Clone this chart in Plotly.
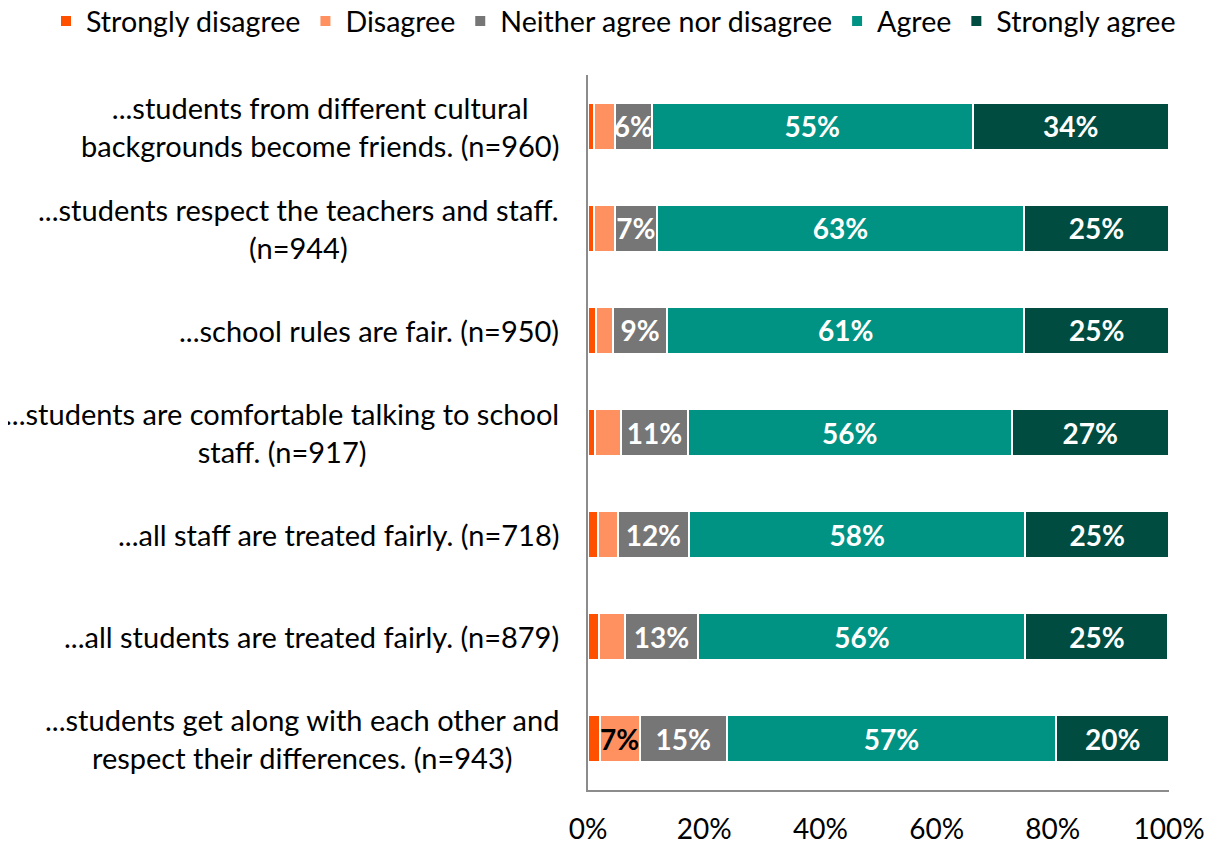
import plotly.graph_objects as go

categories = [
    "...students from different cultural<br>backgrounds become friends. (n=960)",
    "...students respect the teachers and staff.<br>(n=944)",
    "...school rules are fair. (n=950)",
    "...students are comfortable talking to school<br>staff. (n=917)",
    "...all staff are treated fairly. (n=718)",
    "...all students are treated fairly. (n=879)",
    "...students get along with each other and<br>respect their differences. (n=943)",
]

series_names = ["Strongly disagree", "Disagree", "Neither agree nor disagree", "Agree", "Strongly agree"]

strongly_disagree = [1.0, 1.0, 1.4, 1.2, 1.7, 1.9, 2.0]
disagree = [3.6, 3.6, 2.9, 4.5, 3.4, 4.4, 6.9]
neither = [6.4, 7.3, 9.3, 11.5, 12.3, 12.7, 15.0]
agree = [55.2, 63.1, 61.5, 55.7, 57.9, 56.3, 56.7]
strongly_agree = [33.8, 25.0, 24.9, 27.1, 24.7, 24.6, 19.4]

labels_sd = ["", "", "", "", "", "", ""]
labels_d = ["", "", "", "", "", "", "7%"]
labels_n = ["6%", "7%", "9%", "11%", "12%", "13%", "15%"]
labels_a = ["55%", "63%", "61%", "56%", "58%", "56%", "57%"]
labels_sa = ["34%", "25%", "25%", "27%", "25%", "25%", "20%"]

x_tick_vals = [0, 20, 40, 60, 80, 100]
x_tick_text = ["0%", "20%", "40%", "60%", "80%", "100%"]

colors = ["#FF5000", "#FF9060", "#767676", "#009384", "#004C40"]
text_colors = ["white", "black", "white", "white", "white"]

values = [strongly_disagree, disagree, neither, agree, strongly_agree]
labels = [labels_sd, labels_d, labels_n, labels_a, labels_sa]

FONT = "Lato, 'Open Sans', sans-serif"
W, H = 1209, 838
ML, MR, MT, MB = 580, 48, 67, 56
PW = W - ML - MR
PH = H - MT - MB

fig = go.Figure()
for name, vals, lab, col, tcol in zip(series_names, values, labels, colors, text_colors):
    fig.add_trace(go.Bar(
        y=categories,
        x=vals,
        name=name,
        orientation="h",
        marker=dict(color=col, line=dict(color="white", width=2)),
        text=lab,
        textposition="inside",
        insidetextanchor="middle",
        textangle=0,
        constraintext="none",
        insidetextfont=dict(family=FONT, size=28, color=tcol, weight="bold"),
        hoverinfo="x+name",
    ))

for cat in categories:
    fig.add_annotation(
        x=0, xref="paper", y=cat, yref="y",
        text=cat, showarrow=False,
        xanchor="right", yanchor="middle", align="center",
        xshift=-27,
        font=dict(family=FONT, size=29, color="black"),
    )

fig.update_layout(
    barmode="stack",
    bargap=0.54,
    width=W,
    height=H,
    margin=dict(l=ML, r=MR, t=MT, b=MB, autoexpand=False),
    plot_bgcolor="white",
    paper_bgcolor="white",
    font=dict(family=FONT, size=28, color="black"),
    uniformtext=dict(mode="show", minsize=28),
    legend=dict(
        orientation="h",
        x=(38 - ML) / PW, xref="paper", xanchor="left",
        y=1 + (MT + 12) / PH, yref="paper", yanchor="top",
        font=dict(family=FONT, size=28.6, color="black"),
        itemwidth=30,
        traceorder="normal",
        bgcolor="rgba(0,0,0,0)",
    ),
    showlegend=True,
)

fig.update_xaxes(
    range=[0, 100],
    tickvals=x_tick_vals,
    ticktext=x_tick_text,
    showgrid=False,
    zeroline=False,
    showline=True,
    linecolor="#8C8C8C",
    linewidth=2,
    ticks="",
    tickfont=dict(family=FONT, size=28, color="black"),
    ticklabelstandoff=13,
)
fig.update_yaxes(
    autorange="reversed",
    showticklabels=False,
    showgrid=False,
    zeroline=False,
    showline=True,
    linecolor="#8C8C8C",
    linewidth=2,
    ticks="",
)

fig.write_html("out.html")
